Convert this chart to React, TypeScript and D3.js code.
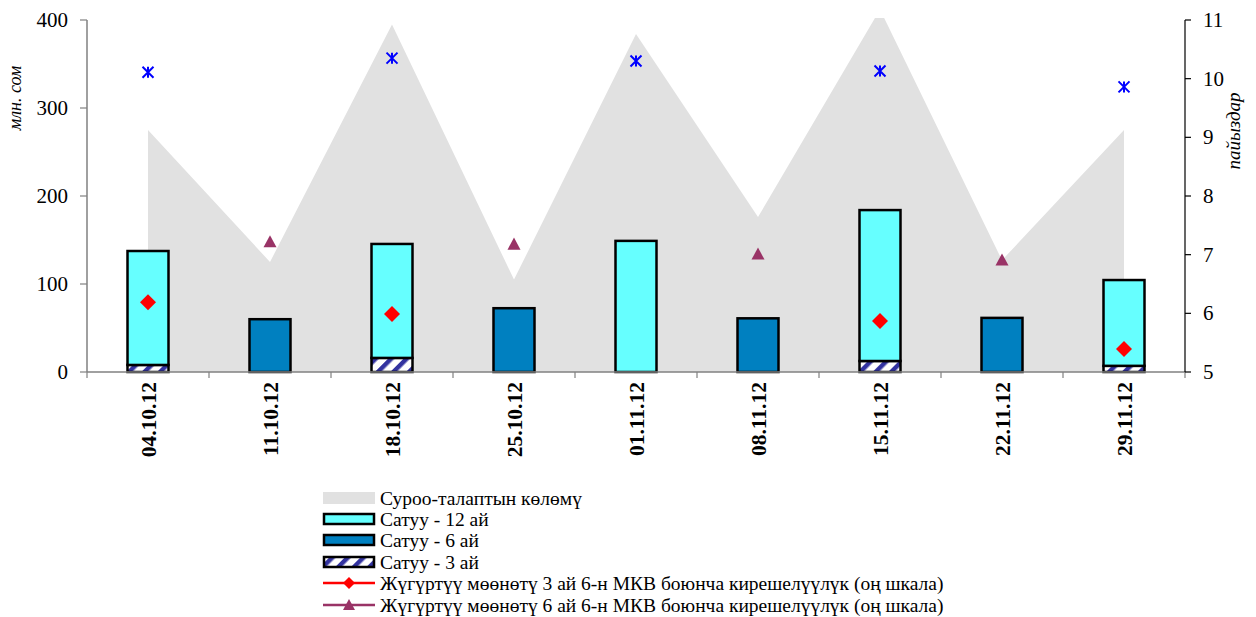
import React from "react";
import * as d3 from "d3";

const dates = ["04.10.12", "11.10.12", "18.10.12", "25.10.12", "01.11.12", "08.11.12", "15.11.12", "22.11.12", "29.11.12"];
const demand = [275, 125, 395, 105, 384, 176, 412, 127, 275];
const sale3 = [8, 0, 16, 0, 0, 0, 12.5, 0, 7];
const sale6 = [0, 60, 0, 72.5, 0, 61, 0, 61.5, 0];
const sale12 = [129.5, 0, 129.5, 0, 149, 0, 171.5, 0, 97.5];
const yield3: (number | null)[] = [6.19, null, 5.99, null, null, null, 5.87, null, 5.39];
const yield6: (number | null)[] = [null, 7.22, null, 7.18, null, 7.01, null, 6.91, null];
const yield12: (number | null)[] = [10.11, null, 10.35, null, 10.3, null, 10.13, null, 9.86];
const leftTicks = [0, 100, 200, 300, 400];
const rightTicks = [5, 6, 7, 8, 9, 10, 11];
const legendLabels = [
  "Суроо-талаптын көлөмү",
  "Сатуу - 12 ай",
  "Сатуу - 6 ай",
  "Сатуу - 3 ай",
  "Жүгүртүү мөөнөтү 3 ай 6-н МКВ боюнча кирешелүүлүк (оң шкала)",
  "Жүгүртүү мөөнөтү 6 ай 6-н МКВ боюнча кирешелүүлүк (оң шкала)",
];

const L = 87, R = 1185, T = 20, B = 372;
const FONT = "Liberation Serif, Times New Roman, serif";

export default function App() {
  const x = d3.scaleBand<string>().domain(dates).range([L, R]).paddingInner(0).paddingOuter(0);
  const cx = (d: string) => (x(d) as number) + x.bandwidth() / 2;
  const yL = d3.scaleLinear().domain([0, 400]).range([B, T]);
  const yR = d3.scaleLinear().domain([5, 11]).range([B, T]);
  const barW = 41;

  const areaGen = d3.area<number>()
    .x((_, i) => cx(dates[i]))
    .y0(B)
    .y1((v) => yL(v));

  const stacks = dates.map((d, i) => {
    const segs: { y0: number; y1: number; fill: string }[] = [];
    let base = 0;
    const parts: [number, string][] = [[sale3[i], "url(#hatch)"], [sale6[i], "#0080C0"], [sale12[i], "#66FFFF"]];
    parts.forEach(([v, f]) => {
      if (v > 0) {
        segs.push({ y0: base, y1: base + v, fill: f });
        base += v;
      }
    });
    return { d, segs };
  });

  const diamond = (px: number, py: number, r: number) => `M${px},${py - r}L${px + r},${py}L${px},${py + r}L${px - r},${py}Z`;
  const tri = (px: number, py: number, r: number) => `M${px},${py - r}L${px + r},${py + r * 0.85}L${px - r},${py + r * 0.85}Z`;
  const star = (px: number, py: number, r: number) =>
    `M${px},${py - r}L${px},${py + r}M${px - r},${py - r}L${px + r},${py + r}M${px - r},${py + r}L${px + r},${py - r}`;

  const legY = [498, 519, 540, 562, 583, 605];
  const lx0 = 323, lx1 = 375;

  return (
    <svg width={1256} height={617} style={{ position: "absolute", left: 0, top: 0, background: "#fff", fontFamily: FONT }}>
      <defs>
        <pattern id="hatch" patternUnits="userSpaceOnUse" width={11} height={11} patternTransform="rotate(45)">
          <rect width={11} height={11} fill="#fff" />
          <rect width={4.5} height={11} fill="#3333A0" />
        </pattern>
        <clipPath id="plotClip">
          <rect x={L} y={T - 2} width={R - L} height={B - T + 2} />
        </clipPath>
      </defs>

      <path d={areaGen(demand) || ""} fill="#E1E1E1" clipPath="url(#plotClip)" />

      {stacks.map(({ d, segs }) =>
        segs.map((s, j) => (
          <rect key={d + j} x={cx(d) - barW / 2} y={yL(s.y1)} width={barW} height={yL(s.y0) - yL(s.y1)}
            fill={s.fill} stroke="#000" strokeWidth={2.5} />
        ))
      )}

      {/* x axis */}
      <line x1={L} x2={R} y1={B} y2={B} stroke="#808080" strokeWidth={1.5} />
      {d3.range(dates.length + 1).map((i) => {
        const xx = L + i * x.bandwidth();
        return <line key={"xt" + i} x1={xx} x2={xx} y1={B} y2={B + 6} stroke="#808080" strokeWidth={1.2} />;
      })}
      {dates.map((d) => (
        <text key={"xl" + d} transform={`translate(${cx(d) + 7.5},${B + 10}) rotate(-90)`} textAnchor="end"
          fontSize={21.5} fontWeight="bold" fill="#000">{d}</text>
      ))}

      {/* left axis */}
      <line x1={L} x2={L} y1={T} y2={B} stroke="#808080" strokeWidth={1.5} />
      {leftTicks.map((t) => (
        <g key={"lt" + t}>
          <line x1={L - 7} x2={L} y1={yL(t)} y2={yL(t)} stroke="#808080" strokeWidth={1.2} />
          <text x={L - 19} y={yL(t) + 7} textAnchor="end" fontSize={21} fill="#000">{t}</text>
        </g>
      ))}
      <text transform={`translate(21,98) rotate(-90)`} textAnchor="middle" fontSize={18} fontStyle="italic" fill="#000">млн. сом</text>

      {/* right axis */}
      <line x1={R} x2={R} y1={T} y2={B} stroke="#000" strokeWidth={1.2} />
      {rightTicks.map((t) => (
        <g key={"rt" + t}>
          <line x1={R} x2={R + 6} y1={yR(t)} y2={yR(t)} stroke="#000" strokeWidth={1.2} />
          <text x={R + 18} y={yR(t) + 7} textAnchor="start" fontSize={21} fill="#000">{t}</text>
        </g>
      ))}
      <text transform={`translate(1240,131) rotate(-90)`} textAnchor="middle" fontSize={19} fontStyle="italic" fill="#000">пайыздар</text>

      {/* markers */}
      {yield3.map((v, i) => v == null ? null : (
        <path key={"y3" + i} d={diamond(cx(dates[i]), yR(v), 8)} fill="#FF0000" />
      ))}
      {yield6.map((v, i) => v == null ? null : (
        <path key={"y6" + i} d={tri(cx(dates[i]), yR(v), 6.5)} fill="#993366" />
      ))}
      {yield12.map((v, i) => v == null ? null : (
        <path key={"y12" + i} d={star(cx(dates[i]), yR(v), 5.5)} fill="none" stroke="#0000FF" strokeWidth={2} />
      ))}

      {/* legend */}
      <rect x={lx0} y={legY[0] - 6} width={lx1 - lx0} height={12} fill="#E1E1E1" />
      <rect x={lx0 + 1} y={legY[1] - 5} width={lx1 - lx0 - 2} height={10} fill="#66FFFF" stroke="#000" strokeWidth={2.5} />
      <rect x={lx0 + 1} y={legY[2] - 5} width={lx1 - lx0 - 2} height={10} fill="#0080C0" stroke="#000" strokeWidth={2.5} />
      <rect x={lx0 + 1} y={legY[3] - 5} width={lx1 - lx0 - 2} height={10} fill="url(#hatch)" stroke="#000" strokeWidth={2.5} />
      <line x1={lx0} x2={lx1} y1={legY[4]} y2={legY[4]} stroke="#FF0000" strokeWidth={2.5} />
      <path d={diamond((lx0 + lx1) / 2, legY[4], 6)} fill="#FF0000" />
      <line x1={lx0} x2={lx1} y1={legY[5]} y2={legY[5]} stroke="#993366" strokeWidth={2.5} />
      <path d={tri((lx0 + lx1) / 2, legY[5], 6)} fill="#993366" />
      {legendLabels.map((s, i) => (
        <text key={"lg" + i} x={380} y={legY[i] + 6.5} fontSize={19.5} fill="#000">{s}</text>
      ))}
    </svg>
  );
}
